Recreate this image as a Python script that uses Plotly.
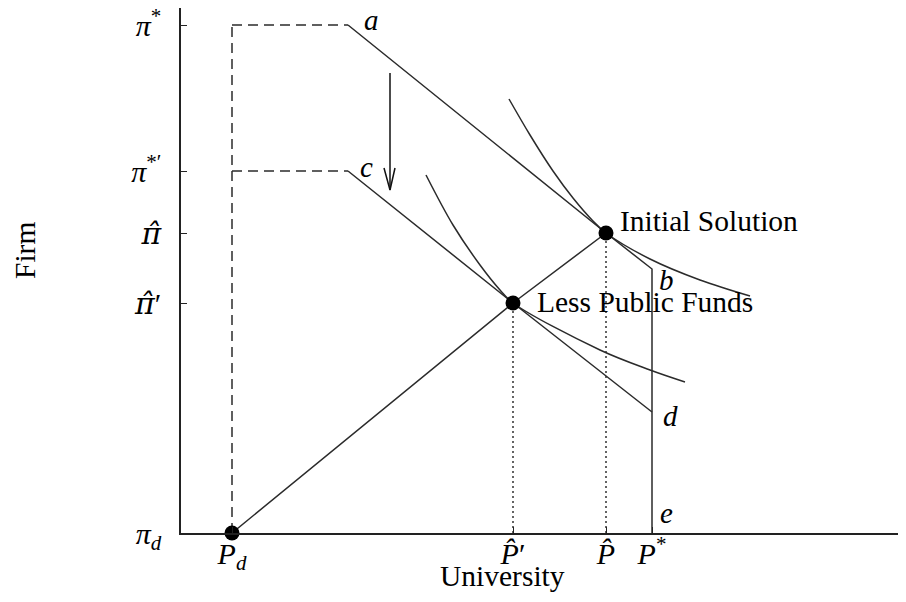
import plotly.graph_objects as go

# ---- data (diagram coordinates: University on x, Firm on y) ----
x_tick_vals = [51, 332, 425, 471]
x_tick_text = ["<i>P</i><sub><i>d</i></sub>", "<i>P̂</i>′", "<i>P̂</i>", "<i>P</i><sup>*</sup>"]
y_tick_vals = [0, 230, 300, 362, 508]
HAT = '<span style="font-family:DejaVu Serif">'
y_tick_text = ["<i>π</i><sub><i>d</i></sub>",
               HAT + "<i>π̂</i></span>′",
               HAT + "<i>π̂</i></span>",
               "<i>π</i><sup>*′</sup>",
               "<i>π</i><sup>*</sup>"]

# budget frontier a -> b -> e (initial)
frontier_ab_x = [167, 425, 471, 471]
frontier_ab_y = [508, 300, 264, 0]
# budget frontier c -> d (less public funds)
frontier_cd_x = [167, 332, 471]
frontier_cd_y = [362, 230, 121]
# expansion path from P_d through both solutions
path_x = [51, 332, 425]
path_y = [0, 230, 300]
# indifference curves
ic1_x = [328, 349, 372, 392, 412, 425, 469, 519, 569]
ic1_y = [434, 398, 362, 335, 312, 300, 274, 253, 237]
ic2_x = [245, 272, 299, 319, 332, 419, 469, 504]
ic2_y = [358, 308, 268, 243, 230, 183, 163, 151]
# dashed guides
dash_v_x = [51, 51]
dash_v_y = [0, 508]
dash_h1_x = [51, 167]
dash_h1_y = [508, 508]
dash_h2_x = [51, 167]
dash_h2_y = [362, 362]
# dotted drop lines
dot1_x = [332, 332]
dot1_y = [0, 230]
dot2_x = [425, 425]
dot2_y = [0, 300]
# arrow (shift of frontier)
arrow_x = [209, 209]
arrow_y = [460, 343]
arrowhead_x = [203, 209, 214]
arrowhead_y = [365, 343, 365]
# solution points
sol_x = [51, 332, 425]
sol_y = [0, 230, 300]
# point labels
pt_labels = ["a", "c", "b", "d", "e"]
pt_label_x = [181, 177, 476, 480, 477]
pt_label_y = [513, 366, 253, 117, 20]
sol_labels = ["Initial Solution", "Less Public Funds"]
sol_label_x = [437, 354]
sol_label_y = [312, 231]

LINE = "#2b2b2b"
FONT = "Liberation Serif"

fig = go.Figure()


def add_line(x, y, dash="solid", width=1.5, color=LINE, shape="linear"):
    fig.add_trace(go.Scatter(x=x, y=y, mode="lines",
                             line=dict(color=color, width=width, dash=dash, shape=shape, smoothing=1.0),
                             hoverinfo="skip", showlegend=False, cliponaxis=False))


add_line(dash_v_x, dash_v_y, dash="10px,6px")
add_line(dash_h1_x, dash_h1_y, dash="10px,6px")
add_line(dash_h2_x, dash_h2_y, dash="10px,6px")
add_line(dot1_x, dot1_y, dash="2px,3px", width=1.3, color="#111111")
add_line(dot2_x, dot2_y, dash="2px,3px", width=1.3, color="#111111")
add_line(frontier_ab_x, frontier_ab_y)
add_line(frontier_cd_x, frontier_cd_y)
add_line(path_x, path_y)
add_line(ic1_x, ic1_y, shape="spline")
add_line(ic2_x, ic2_y, shape="spline")
add_line(arrow_x, arrow_y, color="#111111")
add_line(arrowhead_x, arrowhead_y, color="#111111")

fig.add_trace(go.Scatter(x=sol_x, y=sol_y, mode="markers",
                         marker=dict(color="black", size=15),
                         hoverinfo="skip", showlegend=False, cliponaxis=False))

for t, x, y in zip(pt_labels, pt_label_x, pt_label_y):
    fig.add_annotation(x=x, y=y, xref="x", yref="y", text="<i>" + t + "</i>",
                       showarrow=False, xanchor="left", yanchor="middle",
                       font=dict(family=FONT, size=29, color="black"))
for t, x, y in zip(sol_labels, sol_label_x, sol_label_y):
    fig.add_annotation(x=x, y=y, xref="x", yref="y", text=t,
                       showarrow=False, xanchor="left", yanchor="middle",
                       font=dict(family=FONT, size=29.5, color="black"))

fig.add_annotation(x=321, y=-0.082, xref="x", yref="paper", text="University",
                   showarrow=False, xanchor="center", yanchor="middle",
                   font=dict(family=FONT, size=29.5, color="black"))
fig.add_annotation(x=-0.2152, y=283, xref="paper", yref="y", text="Firm", textangle=-90,
                   showarrow=False, xanchor="center", yanchor="middle",
                   font=dict(family=FONT, size=29.5, color="black"))

axis_common = dict(showgrid=False, zeroline=False, showline=True, linecolor="#222222",
                   linewidth=1.5, ticks="inside", ticklen=6, tickwidth=1.3,
                   tickcolor="#222222", fixedrange=True, ticklabeloverflow="allow",
                   automargin=False,
                   tickfont=dict(family=FONT, size=30, color="black"))

# the page body adds an 8px offset, so the figure is 8px smaller than the window
fig.update_layout(
    width=898, height=594,
    margin=dict(l=173, r=0, t=0, b=69, pad=0, autoexpand=False),
    paper_bgcolor="white", plot_bgcolor="white",
    xaxis=dict(range=[0, 725], tickvals=x_tick_vals, ticktext=x_tick_text,
               ticklabelstandoff=-7, **axis_common),
    yaxis=dict(range=[0, 525], tickvals=y_tick_vals, ticktext=y_tick_text,
               ticklabelstandoff=12, **axis_common),
)

fig.write_html("out.html")
